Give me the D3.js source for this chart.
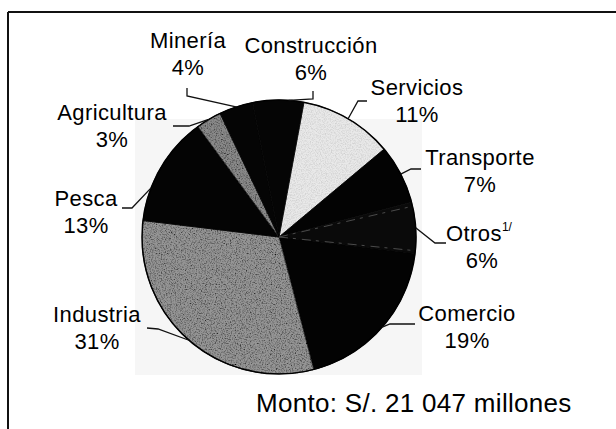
<!DOCTYPE html>
<html>
<head>
<meta charset="utf-8">
<script src="https://cdn.jsdelivr.net/npm/d3@7"></script>
<style>
  body { margin: 0; background: #fff; }
  svg { display: block; font-family: "Liberation Sans", Arial, sans-serif; }
</style>
</head>
<body>
<div id="chart"></div>
<script>
// data (clockwise from the top)
var categories = ["Servicios", "Transporte", "Otros", "Comercio", "Industria", "Pesca", "Agricultura", "Minería", "Construcción"];
var shares = [11, 7, 6, 19, 31, 13, 3, 4, 6];
var shareLabels = ["11%", "7%", "6%", "19%", "31%", "13%", "3%", "4%", "6%"];
var footnotes = ["", "", "1/", "", "", "", "", "", ""];
var totalText = "Monto: S/. 21 047 millones";

// fills per slice (scanned grey tones) and which speckle filter they get
var fills = ["#e9e9e9", "#030303", "#0a0a0a", "#030303", "#959595", "#040404", "#8a8a8a", "#050505", "#050505"];
var grain = ["light", null, null, null, "dark", null, "dark", null, null];

// label layout: centre x, first baseline, leader elbow points, attach angle (deg, null = mid)
var labelLayout = [
  {x: 417, y: 95,  leader: [[367, 101], [358, 101]], angle: null},
  {x: 480, y: 165, leader: [[421, 169], [411, 169]], angle: null},
  {x: 479, y: 241, leader: [[446, 243], [435, 243]], angle: null},
  {x: 467, y: 321, leader: [[415, 324], [390, 324]], angle: null},
  {x: 97,  y: 322, leader: [[147, 328], [158, 329]], angle: null},
  {x: 86,  y: 206, leader: [[122, 208], [132, 208]], angle: 291},
  {x: 112, y: 120, leader: [[173, 126], [189, 126]], angle: null},
  {x: 188, y: 48,  leader: [[187, 88], [187, 96]], angle: null},
  {x: 311, y: 53,  leader: [[313, 91], [313, 99]], angle: 4}
];

var width = 616, height = 429;
var cx = 279, cy = 237, radius = 137;
var lineGap = 27;

var svg = d3.select("#chart")
  .append("svg")
  .attr("width", width)
  .attr("height", height);

// speckle filters for the grey slices
var defs = svg.append("defs");
function makeGrain(id, rgb, gain, offset, seed) {
  var f = defs.append("filter").attr("id", id)
    .attr("x", 0).attr("y", 0).attr("width", 1).attr("height", 1);
  f.append("feTurbulence").attr("type", "fractalNoise").attr("baseFrequency", 0.8)
    .attr("numOctaves", 2).attr("seed", seed).attr("result", "noise");
  f.append("feColorMatrix").attr("in", "noise").attr("type", "matrix")
    .attr("values", "0 0 0 0 " + rgb + "  0 0 0 0 " + rgb + "  0 0 0 0 " + rgb + "  " + gain + " 0 0 0 " + offset)
    .attr("result", "dots");
  f.append("feComposite").attr("in", "dots").attr("in2", "SourceGraphic")
    .attr("operator", "in").attr("result", "clipped");
  var merge = f.append("feMerge");
  merge.append("feMergeNode").attr("in", "SourceGraphic");
  merge.append("feMergeNode").attr("in", "clipped");
}
makeGrain("grain-dark", 0, 2.2, -0.95, 3);
makeGrain("grain-light", 0.62, 2.4, -0.95, 7);

// frame: top rule and left rule
svg.append("line")
  .attr("x1", 8).attr("y1", 12).attr("x2", width).attr("y2", 12)
  .attr("stroke", "#111").attr("stroke-width", 2);
svg.append("line")
  .attr("x1", 8).attr("y1", 12).attr("x2", 8).attr("y2", height)
  .attr("stroke", "#111").attr("stroke-width", 2);

// faint scan background behind the pie
svg.append("rect")
  .attr("x", 135).attr("y", 119).attr("width", 287).attr("height", 256)
  .attr("fill", "#f6f6f6");

var toRad = Math.PI / 180;
var pie = d3.pie()
  .sort(null)
  .value(function(d) { return d; })
  .startAngle(10.5 * toRad)
  .endAngle(370.5 * toRad);

var arcs = pie(shares);
var arc = d3.arc().innerRadius(0).outerRadius(radius);

var g = svg.append("g")
  .attr("transform", "translate(" + cx + "," + cy + ")");

g.selectAll("path.slice")
  .data(arcs)
  .enter()
  .append("path")
    .attr("class", "slice")
    .attr("d", arc)
    .attr("fill", function(d, i) { return fills[i]; })
    .attr("filter", function(d, i) { return grain[i] ? "url(#grain-" + grain[i] + ")" : null; })
    .attr("stroke", function(d, i) { return grain[i] ? "#222" : fills[i]; })
    .attr("stroke-width", 0.8);

// faint streaks where the "Otros" slice meets its neighbours
var otros = arcs[2];
[otros.startAngle + 0.03, otros.endAngle - 0.02].forEach(function(a) {
  g.append("line")
    .attr("x1", 0).attr("y1", 0)
    .attr("x2", (radius - 4) * Math.sin(a)).attr("y2", -(radius - 4) * Math.cos(a))
    .attr("stroke", "#4a4a4a")
    .attr("stroke-width", 1)
    .attr("stroke-dasharray", "9,5,3,6");
});

g.append("circle")
  .attr("r", radius)
  .attr("fill", "none")
  .attr("stroke", "#000")
  .attr("stroke-width", 1.5);

// leader lines
function edgePoint(d, i) {
  var a = labelLayout[i].angle != null ? labelLayout[i].angle * toRad : (d.startAngle + d.endAngle) / 2;
  return [cx + radius * Math.sin(a), cy - radius * Math.cos(a)];
}

svg.selectAll("polyline.leader")
  .data(arcs)
  .enter()
  .append("polyline")
    .attr("class", "leader")
    .attr("points", function(d, i) {
      var pts = labelLayout[i].leader.concat([edgePoint(d, i)]);
      return pts.map(function(p) { return p.join(","); }).join(" ");
    })
    .attr("fill", "none")
    .attr("stroke", "#111")
    .attr("stroke-width", 1.3);

// labels
var labels = svg.selectAll("g.label")
  .data(categories)
  .enter()
  .append("g")
    .attr("class", "label");

labels.append("text")
  .attr("x", function(d, i) { return labelLayout[i].x; })
  .attr("y", function(d, i) { return labelLayout[i].y; })
  .attr("text-anchor", "middle")
  .attr("font-size", "22px")
  .attr("letter-spacing", "0.4px")
  .attr("fill", "#000")
  .each(function(d, i) {
    var t = d3.select(this);
    t.append("tspan").text(d);
    if (footnotes[i]) {
      t.append("tspan")
        .attr("font-size", "12px")
        .attr("letter-spacing", "0px")
        .attr("dy", -10)
        .text(footnotes[i]);
    }
  });

labels.append("text")
  .attr("x", function(d, i) { return labelLayout[i].x + (footnotes[i] ? 3 : 0); })
  .attr("y", function(d, i) { return labelLayout[i].y + lineGap; })
  .attr("text-anchor", "middle")
  .attr("font-size", "22px")
  .attr("letter-spacing", "0.4px")
  .attr("fill", "#000")
  .text(function(d, i) { return shareLabels[i]; });

svg.append("text")
  .attr("x", 256)
  .attr("y", 412)
  .attr("font-size", "26px")
  .attr("letter-spacing", "0.3px")
  .attr("fill", "#000")
  .text(totalText);
</script>
</body>
</html>
